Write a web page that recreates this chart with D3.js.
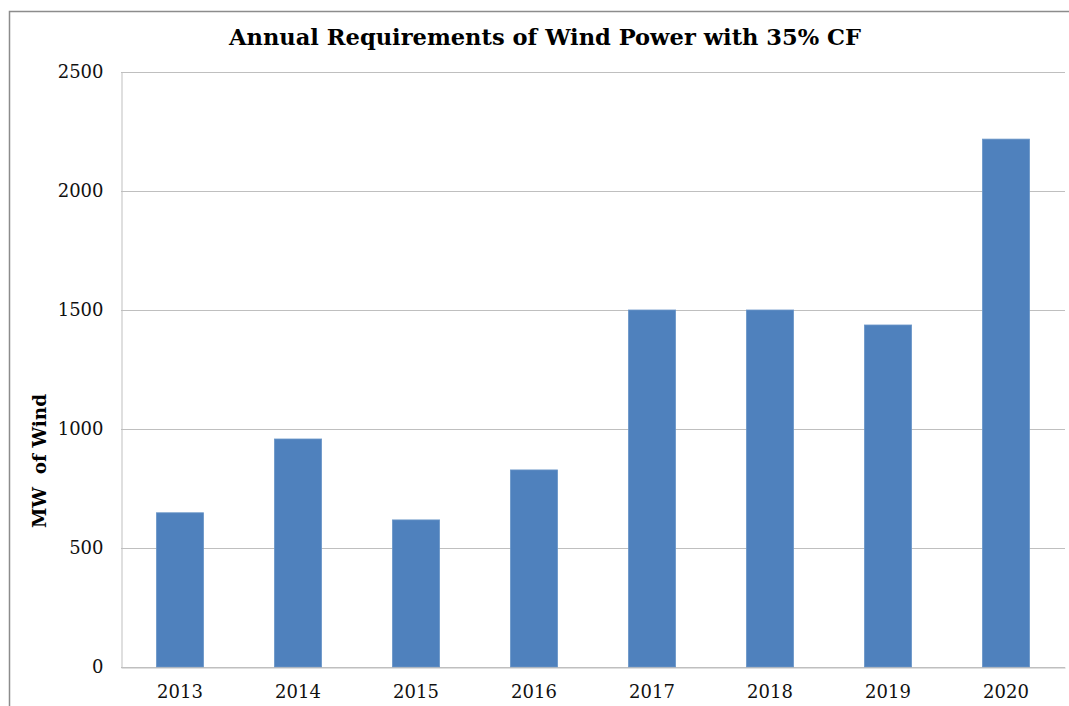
<!DOCTYPE html>
<html>
<head>
<meta charset="utf-8">
<script src="https://cdn.jsdelivr.net/npm/d3@7"></script>
<style>
  body { margin: 0; background: #fff; }
  svg { display: block; font-family: Georgia, "DejaVu Serif", serif; }
</style>
</head>
<body>
<div class="canvas"></div>
<script>
// chart data
const years = ["2013", "2014", "2015", "2016", "2017", "2018", "2019", "2020"];
const mwWind = [648, 958, 618, 828, 1500, 1500, 1437, 2218];
const yTicks = [0, 500, 1000, 1500, 2000, 2500];

const dims = {width: 1069, height: 706};
const plot = {left: 121, top: 72, right: 1065, bottom: 667};

const svg = d3.select(".canvas").append("svg")
    .attr("width", dims.width)
    .attr("height", dims.height);

// outer chart frame (right/bottom cut by the window)
svg.append("rect")
    .attr("x", 9.5).attr("y", 11.5)
    .attr("width", 1100).attr("height", 750)
    .attr("fill", "none")
    .attr("stroke", "#8c8c8c")
    .attr("stroke-width", 1.5);

const x = d3.scaleBand()
    .domain(years)
    .range([plot.left, plot.right])
    .paddingInner(0.6)
    .paddingOuter(0.3);

const y = d3.scaleLinear()
    .domain([0, 2500])
    .range([plot.bottom, plot.top]);

// gridlines
svg.append("g")
    .selectAll("line")
    .data(yTicks)
    .enter().append("line")
    .attr("x1", plot.left).attr("x2", plot.right)
    .attr("y1", d => Math.round(y(d)) + 0.5)
    .attr("y2", d => Math.round(y(d)) + 0.5)
    .attr("stroke", "#bfbfbf")
    .attr("stroke-width", 1);

// y axis
const yAxis = svg.append("g")
    .attr("transform", `translate(${plot.left + 0.5},0)`)
    .call(d3.axisLeft(y).tickValues(yTicks).tickFormat(d3.format("d")).tickSize(0).tickPadding(18));
yAxis.select(".domain").attr("stroke", "#bfbfbf");
yAxis.selectAll("text")
    .attr("font-family", "Georgia, 'DejaVu Serif', serif")
    .attr("font-size", 18)
    .attr("fill", "#111");

// bars
svg.append("g")
    .selectAll("rect")
    .data(years)
    .enter().append("rect")
    .attr("x", d => x(d))
    .attr("y", (d, i) => y(mwWind[i]))
    .attr("width", x.bandwidth())
    .attr("height", (d, i) => y(0) - y(mwWind[i]))
    .attr("fill", "#4f81bd")
    .attr("stroke", "#6b96c8")
    .attr("stroke-width", 0.8);

// x axis
const xAxis = svg.append("g")
    .attr("transform", `translate(0,${plot.bottom + 0.5})`)
    .call(d3.axisBottom(x).tickSize(0).tickPadding(18));
xAxis.select(".domain").attr("stroke", "#bfbfbf");
xAxis.selectAll("text")
    .attr("font-family", "Georgia, 'DejaVu Serif', serif")
    .attr("font-size", 18)
    .attr("fill", "#111");

// title
svg.append("text")
    .attr("x", 545)
    .attr("y", 45)
    .attr("text-anchor", "middle")
    .attr("font-size", 22)
    .attr("font-weight", "bold")
    .attr("textLength", 632)
    .attr("lengthAdjust", "spacingAndGlyphs")
    .text("Annual Requirements of Wind Power with 35% CF");

// y axis label
svg.append("text")
    .attr("transform", "translate(46,461) rotate(-90)")
    .attr("text-anchor", "middle")
    .attr("font-size", 19)
    .attr("font-weight", "bold")
    .attr("textLength", 134)
    .attr("lengthAdjust", "spacingAndGlyphs")
    .attr("xml:space", "preserve")
    .text("MW  of Wind");
</script>
</body>
</html>
